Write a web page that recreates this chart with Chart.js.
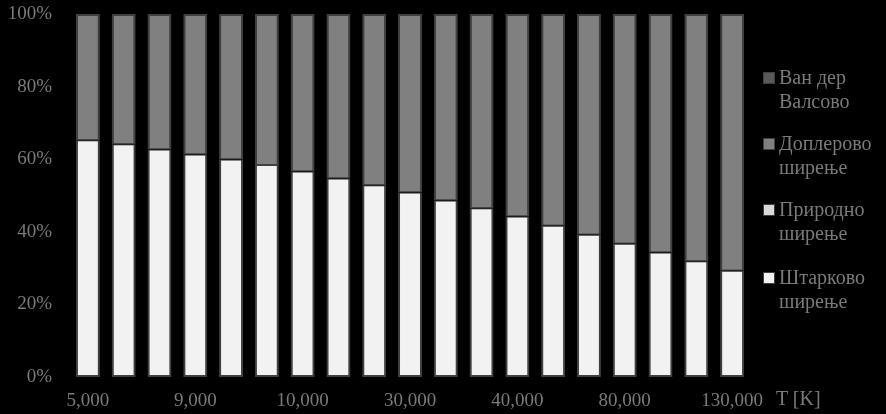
<!DOCTYPE html>
<html>
<head>
<meta charset="utf-8">
<script src="https://cdn.jsdelivr.net/npm/chart.js@4"></script>
<style>
  html, body { margin:0; padding:0; background:#000; }
  #wrap { position:relative; width:886px; height:414px; background:#000; }
  #chart { display:block; }
  #legend { position:absolute; left:763px; top:0; font-family:"Liberation Serif", serif; font-size:20px; color:#7a7a7a; line-height:24px; }
  .item { position:absolute; left:0; width:130px; }
  .box { position:absolute; left:0; top:7px; width:10px; height:10px; border:1px solid #404040; }
  .txt { position:absolute; left:16px; top:0; white-space:nowrap; }
  #xtitle { position:absolute; left:776px; top:387px; font-family:"Liberation Serif", serif; font-size:20px; color:#7a7a7a; }
</style>
</head>
<body>
<div id="wrap">
  <canvas id="chart" width="886" height="414"></canvas>
  <div id="legend"></div>
  <div id="xtitle">T [K]</div>
</div>
<script>
// temperatures (only every third one is labelled on the axis)
const temps = ['5,000','6,000','8,000','9,000','9,500','9,800','10,000','15,000','20,000','30,000','35,000','38,000','40,000','50,000','60,000','80,000','100,000','120,000','130,000'];
const stark   = [65.2,64.1,62.7,61.3,59.9,58.4,56.6,54.7,52.8,50.8,48.6,46.5,44.2,41.7,39.2,36.7,34.3,31.9,29.3];
const natural = [0,0,0,0,0,0,0,0,0,0,0,0,0,0,0,0,0,0,0];
const doppler = [34.8,35.9,37.3,38.7,40.1,41.6,43.4,45.3,47.2,49.2,51.4,53.5,55.8,58.3,60.8,63.3,65.7,68.1,70.7];
const vdw     = [0,0,0,0,0,0,0,0,0,0,0,0,0,0,0,0,0,0,0];
const yTicks  = [0,20,40,60,80,100];

const seriesNames = ['Штарково\nширење','Природно\nширење','Доплерово\nширење','Ван дер\nВалсово'];
const colors = ['#f2f2f2','#d9d9d9','#808080','#595959'];

const tickFont = {family:'"Liberation Serif", serif', size:19};
const greyText = '#7a7a7a';

function ds(i, data, bw){
  return {label: seriesNames[i], data, backgroundColor: colors[i], borderColor:'#404040',
          borderWidth: bw, borderSkipped:false, barPercentage:0.67, categoryPercentage:1};
}

new Chart(document.getElementById('chart'), {
  type:'bar',
  data:{ labels: temps, datasets:[
    ds(0, stark, {left:2,right:2,bottom:2,top:1}),
    ds(1, natural, 0),
    ds(2, doppler, {left:2,right:2,top:2,bottom:1}),
    ds(3, vdw, 0)
  ]},
  options:{
    responsive:false, animation:false,
    layout:{ padding:{left:0, right:136, top:14, bottom:0} },
    plugins:{ legend:{display:false}, tooltip:{enabled:false} },
    scales:{
      x:{ stacked:true, grid:{display:false, drawTicks:false}, border:{display:false},
          ticks:{ color:greyText, font:tickFont, maxRotation:0, autoSkip:false, padding:13,
                  callback:(v,i)=> i%3===0 ? temps[i] : '' },
          afterFit:s=>{ s.height = 37; s.paddingLeft = 0; s.paddingRight = 0; } },
      y:{ stacked:true, min:0, max:100, grid:{display:false, drawTicks:false}, border:{display:false},
          afterBuildTicks:s=>{ s.ticks = yTicks.map(v=>({value:v})); },
          ticks:{ color:greyText, font:tickFont, padding:18, callback:v=>v+'%' },
          afterFit:s=>{ s.width = 70; s.paddingTop = 0; s.paddingBottom = 0; } }
    }
  }
});

// legend drawn as html so the names can wrap on two lines
const legendTops = [265, 197, 131, 65];
const legendEl = document.getElementById('legend');
[3,2,1,0].forEach(i => {
  const it = document.createElement('div');
  it.className = 'item';
  it.style.top = legendTops[i] + 'px';
  it.innerHTML = `<div class="box" style="background:${colors[i]}"></div><div class="txt">${seriesNames[i].replace('\n','<br>')}</div>`;
  legendEl.appendChild(it);
});
</script>
</body>
</html>
